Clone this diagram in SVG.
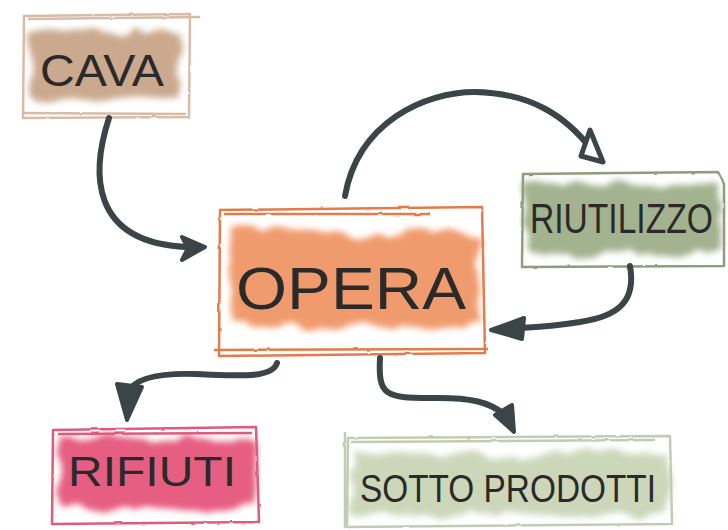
<svg xmlns="http://www.w3.org/2000/svg" width="728" height="530" viewBox="0 0 728 530">
<defs>
<filter id="wash" x="-10%" y="-20%" width="120%" height="140%">
<feTurbulence type="fractalNoise" baseFrequency="0.035" numOctaves="2" seed="3" result="n"/>
<feDisplacementMap in="SourceGraphic" in2="n" scale="18" xChannelSelector="R" yChannelSelector="G" result="d"/>
<feGaussianBlur in="d" stdDeviation="3"/>
</filter>
<filter id="rough" x="-5%" y="-5%" width="110%" height="110%">
<feTurbulence type="fractalNoise" baseFrequency="0.08" numOctaves="1" seed="7" result="n"/>
<feDisplacementMap in="SourceGraphic" in2="n" scale="2.5" xChannelSelector="R" yChannelSelector="G"/>
</filter>
</defs>
<style>
.lbl{font-family:"Liberation Sans","DejaVu Sans",sans-serif;fill:#2a2a2a;font-weight:normal}
.frame{fill:none;stroke-width:2.5;stroke-linejoin:round}
.conn{fill:none;stroke:#3b4446;stroke-width:6;stroke-linecap:round;stroke-linejoin:round}
.head{fill:#3b4446;stroke:#3b4446;stroke-width:4;stroke-linejoin:round}
.headOpen{fill:#ffffff;stroke:#3b4446;stroke-width:5;stroke-linejoin:round}
</style>
<rect width="728" height="530" fill="#ffffff"/>

<g id="cava">
<path d="M32,34 Q70,26 110,32 Q150,26 182,36 L180,96 Q140,104 100,98 Q60,104 30,96 Z" fill="#c29b7c" opacity="0.85" filter="url(#wash)"/>
<g class="frame" stroke="#d9bca8" filter="url(#rough)">
<path d="M24,16 L190,14 L189,117 L23,118 Z"/>
<path d="M28,19 L200,17 M22,113 L186,114"/>
</g>
<text class="lbl" x="40" y="86" font-size="44" textLength="124" lengthAdjust="spacingAndGlyphs">CAVA</text>
</g>

<g id="opera">
<path d="M230,230 Q300,222 360,240 Q420,222 478,236 L478,322 Q420,332 350,322 Q290,334 232,320 Z" fill="#ee8a54" opacity="0.85" filter="url(#wash)"/>
<g class="frame" stroke="#e27b4c" filter="url(#rough)">
<path d="M220,210 L482,207 L485,353 L219,356 Z"/>
<path d="M224,214 L430,214 M214,350 L488,349"/>
</g>
<text class="lbl" x="236" y="309" font-size="60" textLength="230" lengthAdjust="spacingAndGlyphs">OPERA</text>
</g>

<g id="riutilizzo">
<path d="M526,184 Q580,178 630,186 Q680,178 720,186 L720,252 Q670,260 620,252 Q570,260 526,252 Z" fill="#93a67d" opacity="0.85" filter="url(#wash)"/>
<g class="frame" stroke="#8e9e7c" filter="url(#rough)">
<path d="M523,174 L718,172 L724,184 L724,266 L522,267 Z"/>
</g>
<text class="lbl" transform="translate(530,233) scale(0.8,1)" x="0" y="0" font-size="42">RIUTILIZZO</text>
</g>

<g id="rifiuti">
<path d="M58,440 Q110,432 160,444 Q210,434 256,444 L256,504 Q200,514 150,506 Q100,514 58,504 Z" fill="#e2436c" opacity="0.85" filter="url(#wash)"/>
<g class="frame" stroke="#e05a7c" filter="url(#rough)">
<path d="M53,430 L256,427 L259,522 L52,524 Z"/>
<path d="M58,434 L252,433"/>
</g>
<text class="lbl" x="68" y="486" font-size="42" textLength="168" lengthAdjust="spacingAndGlyphs">RIFIUTI</text>
</g>

<g id="sottoprodotti">
<path d="M352,455 Q420,448 500,458 Q590,448 668,456 L668,512 Q590,520 500,512 Q420,520 352,512 Z" fill="#c7d3b3" opacity="0.9" filter="url(#wash)"/>
<g class="frame" stroke="#c3cbb3" filter="url(#rough)">
<path d="M348,438 L670,436 L672,524 L347,527 Z"/>
<path d="M352,442 L655,440 M345,432 L345,528"/>
</g>
<text class="lbl" x="360" y="502" font-size="38" textLength="296" lengthAdjust="spacingAndGlyphs">SOTTO PRODOTTI</text>
</g>

<g id="connectors">
<path class="conn" d="M109,118 C92,170 88,242 186,247"/>
<path class="head" d="M182,237 L205,247 L182,260 L188,248 Z"/>
<path class="conn" d="M345,196 C358,122 425,92 475,92 C530,93 565,115 592,150"/>
<path class="headOpen" d="M590,130 L603,162 L581,156 Z"/>
<path class="conn" d="M630,266 C636,300 620,316 580,322 C555,326 540,327 520,328"/>
<path class="head" d="M524,318 L491,330 L522,339 Z"/>
<path class="conn" d="M277,363 C272,380 230,375 195,374 C160,373 135,378 128,392"/>
<path class="head" d="M117,384 L142,387 L127,420 Z"/>
<path class="conn" d="M380,358 C378,395 385,398 430,398 C470,397 490,402 505,415"/>
<path class="head" d="M495,415 L512,405 L514,432 Z"/>
</g>
</svg>
